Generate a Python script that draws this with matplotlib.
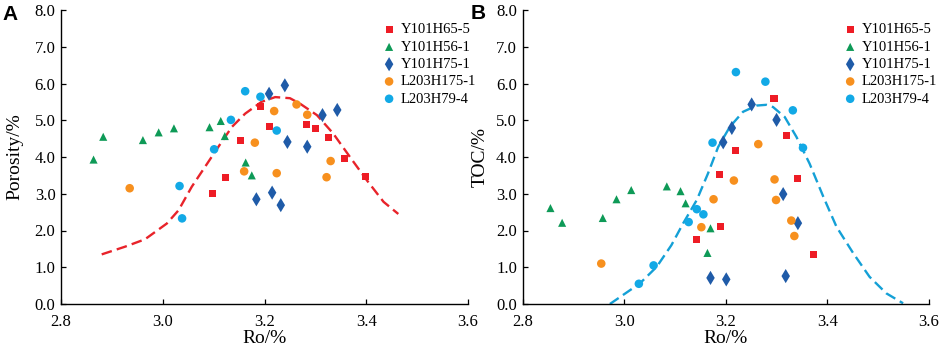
import matplotlib
matplotlib.use("Agg")
import matplotlib.pyplot as plt
from matplotlib.ticker import FormatStrFormatter, MultipleLocator

# ================= DATA =================
SERIES = ["Y101H65-5", "Y101H56-1", "Y101H75-1", "L203H175-1", "L203H79-4"]

# Panel A: Ro vs porosity
a_h65_ro = [3.193, 3.209, 3.153, 3.124, 3.098, 3.282, 3.301, 3.325, 3.358, 3.398]
a_h65_val = [5.37, 4.84, 4.46, 3.45, 3.00, 4.88, 4.77, 4.53, 3.97, 3.48]
a_h56_ro = [2.864, 2.883, 2.961, 2.992, 3.022, 3.092, 3.114, 3.122, 3.163, 3.175]
a_h56_val = [3.93, 4.55, 4.46, 4.67, 4.78, 4.81, 4.98, 4.57, 3.85, 3.50]
a_h75_ro = [3.209, 3.240, 3.343, 3.314, 3.245, 3.284, 3.215, 3.184, 3.232]
a_h75_val = [5.72, 5.95, 5.28, 5.14, 4.41, 4.28, 3.03, 2.85, 2.69]
a_h175_ro = [2.935, 3.263, 3.219, 3.284, 3.181, 3.330, 3.160, 3.224, 3.322]
a_h175_val = [3.15, 5.43, 5.25, 5.15, 4.39, 3.89, 3.61, 3.56, 3.45]
a_h79_ro = [3.162, 3.192, 3.134, 3.224, 3.101, 3.033, 3.038]
a_h79_val = [5.79, 5.64, 5.01, 4.72, 4.21, 3.21, 2.33]

# trend line
a_fit_ro = [2.880, 2.926, 2.965, 3.008, 3.031, 3.057, 3.083, 3.109, 3.136, 3.162,
            3.194, 3.221, 3.250, 3.270, 3.303, 3.335, 3.368, 3.401, 3.434, 3.463]
a_fit_val = [1.35, 1.56, 1.76, 2.19, 2.55, 3.19, 3.73, 4.27, 4.82, 5.18,
             5.50, 5.63, 5.60, 5.45, 5.14, 4.64, 4.00, 3.37, 2.78, 2.45]

# Panel B: Ro vs TOC
b_h65_ro = [3.295, 3.320, 3.220, 3.188, 3.341, 3.190, 3.142, 3.372]
b_h65_val = [5.59, 4.58, 4.18, 3.53, 3.41, 2.11, 1.76, 1.35]
b_h56_ro = [2.855, 2.878, 2.958, 2.985, 3.014, 3.084, 3.111, 3.121, 3.170, 3.164]
b_h56_val = [2.61, 2.21, 2.34, 2.85, 3.10, 3.20, 3.07, 2.74, 2.06, 1.39]
b_h75_ro = [3.251, 3.300, 3.212, 3.195, 3.313, 3.342, 3.170, 3.201, 3.318]
b_h75_val = [5.43, 5.01, 4.79, 4.40, 2.99, 2.20, 0.71, 0.67, 0.76]
b_h175_ro = [3.264, 3.216, 3.296, 3.299, 3.176, 3.152, 3.329, 3.335, 2.955]
b_h175_val = [4.35, 3.36, 3.39, 2.83, 2.85, 2.09, 2.27, 1.85, 1.10]
b_h79_ro = [3.220, 3.278, 3.332, 3.174, 3.352, 3.143, 3.156, 3.127, 3.058, 3.029]
b_h79_val = [6.31, 6.05, 5.27, 4.39, 4.25, 2.58, 2.44, 2.23, 1.05, 0.55]

# trend line
b_fit_ro = [2.972, 3.031, 3.064, 3.093, 3.116, 3.143, 3.165, 3.185, 3.208, 3.234, 3.261,
            3.280, 3.293, 3.316, 3.339, 3.365, 3.392, 3.418, 3.451, 3.483, 3.516, 3.549]
b_fit_val = [0.00, 0.56, 1.01, 1.60, 2.19, 2.83, 3.55, 4.27, 4.82, 5.23, 5.40,
             5.42, 5.36, 5.09, 4.55, 3.82, 2.92, 2.10, 1.38, 0.74, 0.29, 0.02]

X_TICKS = [2.8, 3.0, 3.2, 3.4, 3.6]

# ================= STYLE =================
COLORS = ["#EE1C25", "#0E9A57", "#1F5BA8", "#F7901E", "#12A9E6"]
MARKERS = ["s", "^", "d", "o", "o"]
SIZES = [26, 34, 52, 38, 38]
SERIF = "Liberation Serif"

plt.rcParams["font.family"] = SERIF


def draw_panel(ax, points, fit_ro, fit_val, fit_color, ylabel, ylabel_x):
    for (ro, val), name, c, m, s in zip(points, SERIES, COLORS, MARKERS, SIZES):
        ax.scatter(ro, val, s=s, marker=m, color=c, edgecolors="none",
                   label=name, zorder=3)
    ax.plot(fit_ro, fit_val, color=fit_color, lw=1.7, dashes=(4.5, 2.2), zorder=2)

    ax.set_xlim(2.8, 3.6)
    ax.set_ylim(0, 8)
    ax.set_xticks(X_TICKS)
    ax.yaxis.set_major_locator(MultipleLocator(1.0))
    ax.xaxis.set_major_formatter(FormatStrFormatter("%.1f"))
    ax.yaxis.set_major_formatter(FormatStrFormatter("%.1f"))
    ax.tick_params(direction="in", length=3.5, width=0.9, labelsize=12)
    ax.tick_params(axis="x", pad=7)
    ax.tick_params(axis="y", pad=4)
    for side in ["top", "right"]:
        ax.spines[side].set_visible(False)
    for side in ["left", "bottom"]:
        ax.spines[side].set_linewidth(1.0)

    ax.set_xlabel("Ro/%", fontsize=14)
    ax.set_ylabel(ylabel, fontsize=14)
    ax.xaxis.set_label_coords(0.5, -0.088)
    ax.yaxis.set_label_coords(ylabel_x, 0.5)

    ax.legend(loc="upper left", bbox_to_anchor=(0.79, 0.955), frameon=False,
              fontsize=10.5, handlelength=0.9, handletextpad=0.35,
              labelspacing=0.28, borderaxespad=0, borderpad=0, scatterpoints=1)


fig = plt.figure(figsize=(9.41, 3.52), dpi=100)
ax_a = fig.add_axes([61 / 941, 48 / 352, 407 / 941, 294 / 352])
ax_b = fig.add_axes([522.5 / 941, 48 / 352, 406.5 / 941, 294 / 352])

draw_panel(ax_a,
           [(a_h65_ro, a_h65_val), (a_h56_ro, a_h56_val), (a_h75_ro, a_h75_val),
            (a_h175_ro, a_h175_val), (a_h79_ro, a_h79_val)],
           a_fit_ro, a_fit_val, "#E8232A", "Porosity/%", -0.093)
draw_panel(ax_b,
           [(b_h65_ro, b_h65_val), (b_h56_ro, b_h56_val), (b_h75_ro, b_h75_val),
            (b_h175_ro, b_h175_val), (b_h79_ro, b_h79_val)],
           b_fit_ro, b_fit_val, "#14A0D6", "TOC/%", -0.082)

fig.text(2 / 941, 1 - 5 / 352, "A", fontsize=15, fontweight="bold",
         family="Liberation Sans", va="top", ha="left")
fig.text(471 / 941, 1 - 4 / 352, "B", fontsize=15, fontweight="bold",
         family="Liberation Sans", va="top", ha="left")

fig.savefig("out.png", dpi=100, facecolor="white")
plt.close(fig)
